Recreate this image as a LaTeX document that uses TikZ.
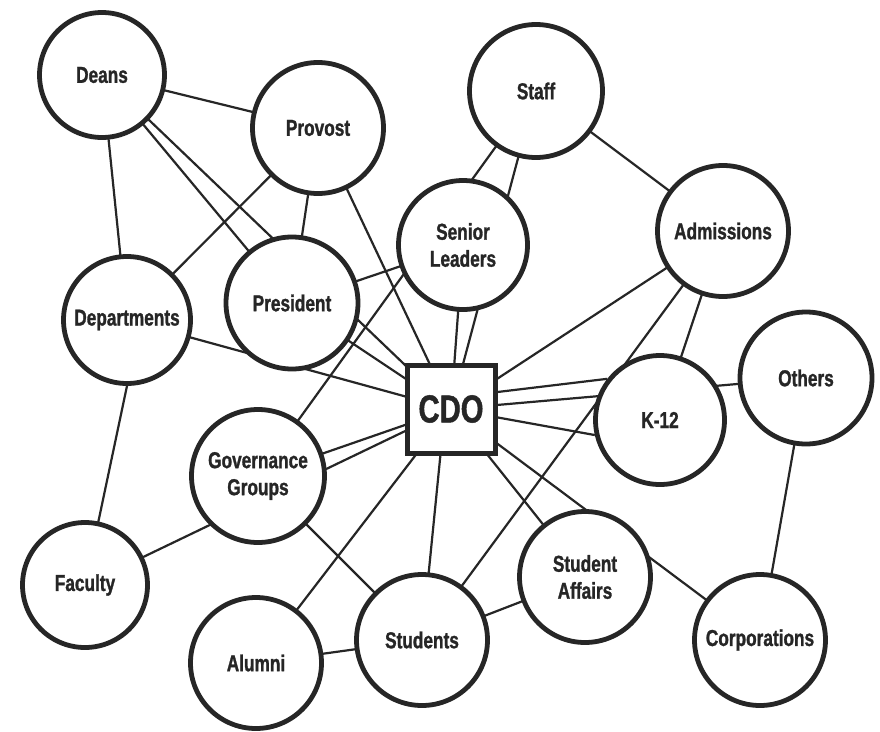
\documentclass[tikz,border=0pt]{standalone}
\usepackage{fontspec}
\newfontfamily\labfont[FakeStretch=0.75,FakeBold=1.2]{Liberation Sans}
\usetikzlibrary{backgrounds}
\definecolor{ink}{HTML}{262626}
\begin{document}
\begin{tikzpicture}[x=1pt,y=-1pt,
  circ/.style={circle, draw=ink, line width=4.8pt, fill=white, minimum size=131pt,
    inner sep=0pt, align=center, text=ink,
    font=\labfont\bfseries\fontsize{23}{27}\selectfont},
  cdobox/.style={rectangle, draw=ink, line width=5pt, fill=white, minimum size=88pt,
    inner sep=0pt, text=ink, font=\labfont\bfseries\fontsize{39}{40}\selectfont},
  link/.style={draw=ink, line width=2.2pt}]
\useasboundingbox (0,0) rectangle (880,731);
% nodes
\node[circ, minimum size=125pt] (deans) at (102,75) {Deans};
\node[circ] (provost) at (318,128) {Provost};
\node[circ, minimum size=133pt] (staff) at (536,91) {Staff};
\node[circ, minimum size=129pt] (senior) at (463,245) {Senior\\Leaders};
\node[circ] (admissions) at (723,231) {Admissions};
\node[circ, minimum size=127pt] (departments) at (127,320) {Departments};
\node[circ, minimum size=132pt] (president) at (292,303) {President};
\node[circ, minimum size=129pt] (k12) at (660,420) {K-12};
\node[circ, minimum size=132pt] (others) at (806,378) {Others};
\node[circ, minimum size=133pt] (gov) at (258,476) {Governance\\Groups};
\node[circ, minimum size=125pt] (faculty) at (85,585) {Faculty};
\node[circ] (affairs) at (585,577) {Student\\Affairs};
\node[circ] (corporations) at (760,640) {Corporations};
\node[circ] (students) at (422,640) {Students};
\node[circ] (alumni) at (256,663) {Alumni};
\node[cdobox] (cdo) at (451,409) {CDO};
% connectors
\begin{scope}[on background layer]
\fill[white] (0,0) rectangle (880,731);
\draw[link] (deans.center) -- (provost.center);
\draw[link] (deans.center) -- (departments.center);
\draw[link] (deans.center) -- (president.center);
\draw[link] (deans.center) -- (cdo.center);
\draw[link] (provost.center) -- (departments.center);
\draw[link] (provost.center) -- (president.center);
\draw[link] (provost.center) -- (cdo.center);
\draw[link] (departments.center) -- (cdo.center);
\draw[link] (departments.south) -- (faculty.center);
\draw[link] (president.center) -- (senior.center);
\draw[link] (president.center) -- (cdo.center);
\draw[link] (senior.center) -- (cdo.center);
\draw[link] (staff.center) -- (cdo.center);
\draw[link] (staff.center) -- (gov.center);
\draw[link] (staff.center) -- (admissions.center);
\draw[link] (admissions.center) -- (cdo.center);
\draw[link] (admissions.center) -- (k12.center);
\draw[link] (admissions.center) -- (students.center);
\draw[link] (cdo.center) -- (others.center);
\draw[link] ([yshift=17pt]cdo.east) -- (k12.142);
\draw[link] (cdo.center) -- (k12.193);
\draw[link] (others.center) -- (corporations.center);
\draw[link] (cdo.center) -- (corporations.center);
\draw[link] (cdo.center) -- (affairs.center);
\draw[link] (students.center) -- (affairs.center);
\draw[link] ([xshift=-6pt]cdo.center) -- (students.center);
\draw[link] (alumni.center) -- (students.center);
\draw[link] (alumni.center) -- (cdo.center);
\draw[link] (gov.center) -- (cdo.center);
\draw[link] (faculty.center) -- (cdo.center);
\draw[link] (gov.center) -- (students.center);
\end{scope}
\end{tikzpicture}
\end{document}
